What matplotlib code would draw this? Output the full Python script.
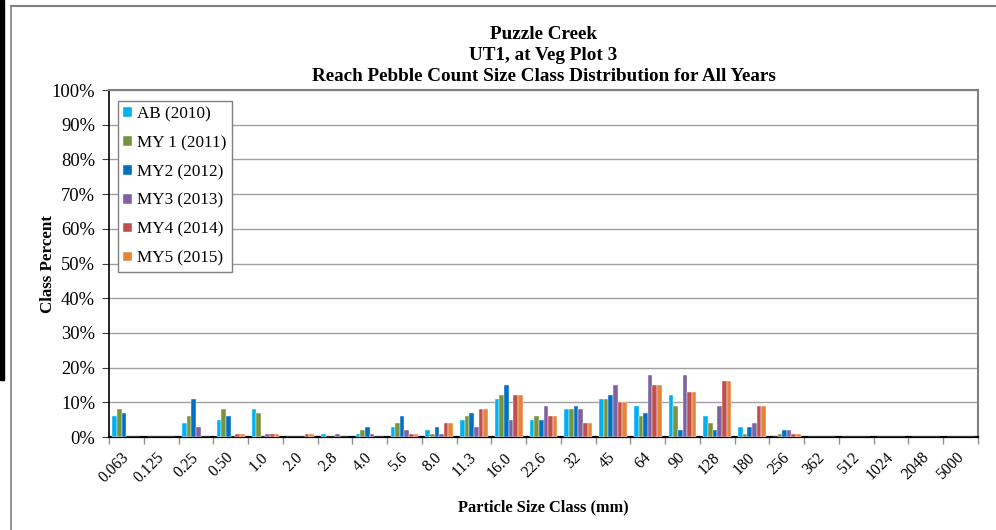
import matplotlib
matplotlib.use('agg')
import matplotlib.pyplot as plt
from matplotlib.lines import Line2D
from matplotlib.patches import Rectangle
from matplotlib.ticker import FixedLocator, FuncFormatter
import numpy as np

# particle size classes (mm)
size_classes = ['0.063', '0.125', '0.25', '0.50', '1.0', '2.0', '2.8', '4.0', '5.6',
                '8.0', '11.3', '16.0', '22.6', '32', '45', '64', '90', '128', '180',
                '256', '362', '512', '1024', '2048', '5000']

series_names = ['AB (2010)', 'MY 1 (2011)', 'MY2 (2012)', 'MY3 (2013)', 'MY4 (2014)', 'MY5 (2015)']
series_colors = ['#00B0F0', '#77933C', '#0070C0', '#7F60A0', '#C0504D', '#E3853D']

# class percent per year
ab_2010 = [6, 0, 4, 5, 8, 0, 1, 1, 3, 2, 5, 11, 5, 8, 11, 9, 12, 6, 3, 0, 0, 0, 0, 0, 0]
my1_2011 = [8, 0, 6, 8, 7, 0, 0, 2, 4, 1, 6, 12, 6, 8, 11, 6, 9, 4, 1, 1, 0, 0, 0, 0, 0]
my2_2012 = [7, 0, 11, 6, 0, 0, 0, 3, 6, 3, 7, 15, 5, 9, 12, 7, 2, 2, 3, 2, 0, 0, 0, 0, 0]
my3_2013 = [0, 0, 3, 0, 1, 0, 1, 1, 2, 1, 3, 5, 9, 8, 15, 18, 18, 9, 4, 2, 0, 0, 0, 0, 0]
my4_2014 = [0, 0, 0, 1, 1, 1, 0, 0, 1, 4, 8, 12, 6, 4, 10, 15, 13, 16, 9, 1, 0, 0, 0, 0, 0]
my5_2015 = [0, 0, 0, 1, 1, 1, 0, 0, 1, 4, 8, 12, 6, 4, 10, 15, 13, 16, 9, 1, 0, 0, 0, 0, 0]

all_series = [ab_2010, my1_2011, my2_2012, my3_2013, my4_2014, my5_2015]

plt.rcParams['font.family'] = ['Liberation Serif', 'DejaVu Serif']

fig = plt.figure(figsize=(9.96, 5.30), dpi=100)
ax = fig.add_axes([109 / 996, 1 - 437 / 530, 869 / 996, 347 / 530])

x = np.arange(len(size_classes))
w = 0.8 / len(all_series)
for i, (vals, name, col) in enumerate(zip(all_series, series_names, series_colors)):
    ax.bar(x + (i - 2.5) * w, vals, width=w, color=col, label=name,
           edgecolor='white', linewidth=0.3, zorder=3)

ax.set_xlim(-0.5, len(size_classes) - 0.5)
ax.set_ylim(0, 100)
ax.set_yticks(np.arange(0, 101, 10))
ax.yaxis.set_major_formatter(FuncFormatter(lambda v, p: '%d%%' % v))
ax.grid(axis='y', color='#a0a0a0', linewidth=1.0, zorder=0)

# labels sit slightly left of the category centre, like Excel's rotated labels
ax.set_xticks(x - 0.15)
ax.set_xticklabels(size_classes, rotation=45, ha='right', va='top',
                   rotation_mode='anchor', fontsize=11.3)
ax.xaxis.set_minor_locator(FixedLocator(np.arange(-0.5, len(size_classes), 1)))
ax.tick_params(axis='x', which='major', length=0, pad=9)
ax.tick_params(axis='x', which='minor', length=5, color='#909090', width=1)
ax.tick_params(axis='y', length=5, color='#404040', labelsize=13.3, pad=5)

for s in ['top', 'right']:
    ax.spines[s].set_color('#808080')
    ax.spines[s].set_linewidth(1.5)
ax.spines['left'].set_color('black')
ax.spines['left'].set_linewidth(1.2)
ax.spines['bottom'].set_color('black')
ax.spines['bottom'].set_linewidth(1.6)

ax.set_title('Puzzle Creek\nUT1, at Veg Plot 3\nReach Pebble Count Size Class Distribution for All Years',
             fontsize=13.8, fontweight='bold', linespacing=1.29, pad=6.5)
ax.set_xlabel('Particle Size Class (mm)', fontsize=11.8, fontweight='bold', labelpad=9.5)
ax.set_ylabel('Class Percent', fontsize=12.2, fontweight='bold', labelpad=-3)

leg = ax.legend(loc='upper left', bbox_to_anchor=(0.010, 0.969), borderaxespad=0,
                fontsize=12.3, fancybox=False, edgecolor='#808080', framealpha=1,
                handlelength=0.5, handleheight=0.5, handletextpad=0.3,
                labelspacing=0.75, borderpad=0.33)
leg.get_frame().set_linewidth(1.0)

# outer chart frame and dark strip at left edge
fig.add_artist(Line2D([11 / 996, 1], [1 - 6 / 530, 1 - 6 / 530],
                      transform=fig.transFigure, color='#808080', linewidth=1.5))
fig.add_artist(Line2D([11 / 996, 11 / 996], [0, 1 - 6 / 530],
                      transform=fig.transFigure, color='#808080', linewidth=1.2))
fig.add_artist(Rectangle((0, 1 - 380 / 530), 4 / 996, 380 / 530,
                         transform=fig.transFigure, color='black'))

fig.savefig('out.png', dpi=100)
